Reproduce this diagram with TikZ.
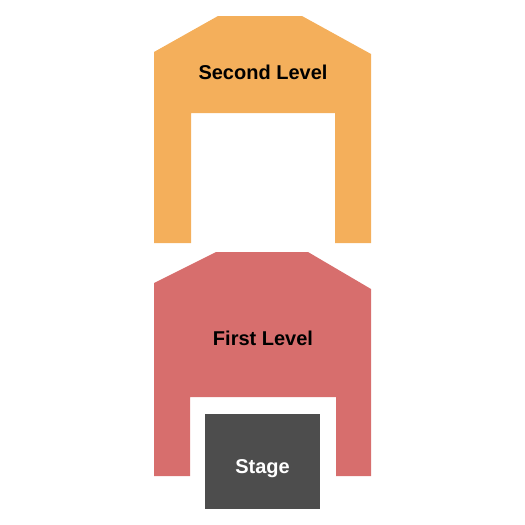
\documentclass[tikz,border=0pt]{standalone}
\usepackage{fontspec}
\setmainfont{Liberation Sans}
\definecolor{second}{HTML}{F4AF5B}
\definecolor{first}{HTML}{D76E6D}
\definecolor{stagec}{HTML}{4D4D4D}
\tikzset{
  lvl/.style={font=\bfseries\fontsize{20}{22}\selectfont, text=black, inner sep=0pt},
  stagelbl/.style={font=\bfseries\fontsize{20}{22}\selectfont, text=white, inner sep=0pt}
}
\begin{document}
\begin{tikzpicture}[x=1pt,y=-1pt]
\useasboundingbox (0,0) rectangle (525,525);
\fill[second] (154,52) -- (218,16) -- (302,16) -- (371,54) -- (371,243) -- (335,243) -- (335,113) -- (191,113) -- (191,243) -- (154,243) -- cycle;
\fill[first] (154,283) -- (216,252) -- (308,252) -- (371,289) -- (371,476) -- (336,476) -- (336,397) -- (190,397) -- (190,476) -- (154,476) -- cycle;
\fill[stagec] (205,414) rectangle (320,509);
\node[lvl] (second) at (263,72) {Second Level};
\node[lvl] (first) at (263,338) {First Level};
\node[stagelbl] (stage) at (262.5,469) {Stage};
\end{tikzpicture}
\end{document}
